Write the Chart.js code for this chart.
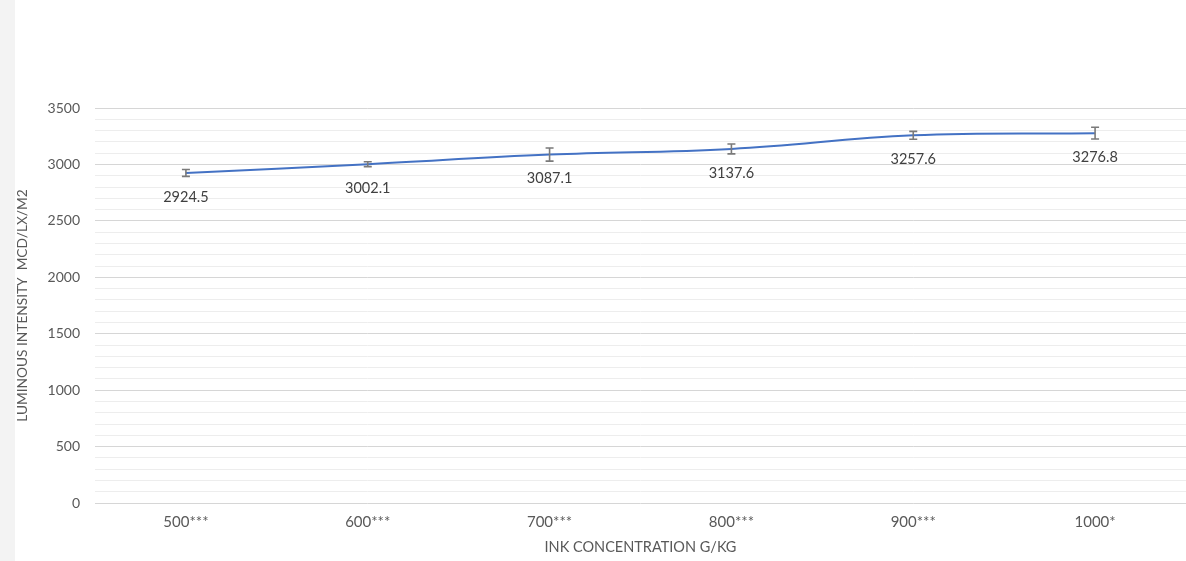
<!DOCTYPE html>
<html>
<head>
<meta charset="utf-8">
<script src="https://cdn.jsdelivr.net/npm/chart.js@4.4.1/dist/chart.umd.min.js"></script>
<style>
  html, body { margin: 0; padding: 0; background: #ffffff; overflow: hidden; }
  #wrap { position: relative; width: 1186px; height: 561px; }
  #strip { position: absolute; left: 0; top: 0; width: 15px; height: 561px; background: #f3f3f3; }
  canvas { position: absolute; left: 0; top: 0; }
</style>
</head>
<body>
<div id="wrap">
  <div id="strip"></div>
  <canvas id="c" width="1186" height="561"></canvas>
</div>
<script>
// Ink concentration groups (significance marks included in the label)
const categories = ['500***', '600***', '700***', '800***', '900***', '1000*'];
// Mean luminous intensity, mcd/lx/m2
const intensity = [2924.5, 3002.1, 3087.1, 3137.6, 3257.6, 3276.8];
// Error bar half-widths, same units
const errors = [30, 22, 58, 44, 35, 52];
// Axis range
const yMin = 0;
const yMax = 3500;
const yMajorStep = 500;
const yMinorStep = 100;

const FONT = 'Lato, "Open Sans", sans-serif';

// Vertical error bars with caps, placed through the y scale
const errorBars = {
  id: 'errorBars',
  afterDatasetsDraw(chart) {
    const ctx = chart.ctx;
    const meta = chart.getDatasetMeta(0);
    const y = chart.scales.y;
    ctx.save();
    ctx.strokeStyle = '#7a7a7a';
    ctx.lineWidth = 1.6;
    meta.data.forEach((pt, i) => {
      const v = intensity[i];
      const top = y.getPixelForValue(v + errors[i]);
      const bot = y.getPixelForValue(v - errors[i]);
      const cap = 4;
      ctx.beginPath();
      ctx.moveTo(pt.x, top); ctx.lineTo(pt.x, bot);
      ctx.moveTo(pt.x - cap, top); ctx.lineTo(pt.x + cap, top);
      ctx.moveTo(pt.x - cap, bot); ctx.lineTo(pt.x + cap, bot);
      ctx.stroke();
    });
    ctx.restore();
  }
};

// Value labels below each point
const valueLabels = {
  id: 'valueLabels',
  afterDatasetsDraw(chart) {
    const ctx = chart.ctx;
    const meta = chart.getDatasetMeta(0);
    ctx.save();
    ctx.fillStyle = '#404040';
    ctx.font = '14.5px ' + FONT;
    ctx.textAlign = 'center';
    ctx.textBaseline = 'middle';
    meta.data.forEach((pt, i) => {
      ctx.fillText(intensity[i].toFixed(1), pt.x, pt.y + 24);
    });
    ctx.restore();
  }
};

new Chart(document.getElementById('c'), {
  type: 'line',
  data: {
    labels: categories,
    datasets: [{
      data: intensity,
      borderColor: '#4472c4',
      borderWidth: 2,
      pointRadius: 0,
      pointHoverRadius: 0,
      tension: 0.4,
      fill: false
    }]
  },
  options: {
    responsive: false,
    animation: false,
    events: [],
    layout: { padding: { top: 108, right: 0, bottom: 0, left: 0 } },
    plugins: { legend: { display: false }, tooltip: { enabled: false } },
    scales: {
      x: {
        offset: true,
        grid: { display: false, drawTicks: false },
        border: { display: false },
        ticks: { color: '#595959', font: { family: FONT, size: 15 }, padding: 10, maxRotation: 0, autoSkip: false },
        title: {
          display: true,
          text: 'INK CONCENTRATION G/KG',
          color: '#595959',
          font: { family: FONT, size: 14.5 },
          padding: { top: 4, bottom: 5 }
        },
        afterFit(scale) { scale.height = 58; }
      },
      y: {
        min: yMin,
        max: yMax,
        grid: {
          drawTicks: false,
          lineWidth: 1,
          color: (c) => (c.tick && c.tick.value % yMajorStep === 0) ? '#d6d6d6' : '#ededed'
        },
        border: { display: false },
        ticks: {
          stepSize: yMinorStep,
          autoSkip: false,
          padding: 15,
          color: '#595959',
          font: { family: FONT, size: 14 },
          callback: (v) => (v % yMajorStep === 0 ? String(v) : '')
        },
        title: {
          display: true,
          text: 'LUMINOUS INTENSITY  MCD/LX/M2',
          color: '#595959',
          font: { family: FONT, size: 13.7 },
          padding: { top: 14, bottom: 4 }
        },
        afterFit(scale) { scale.width = 95; }
      }
    }
  },
  plugins: [errorBars, valueLabels]
});
</script>
</body>
</html>
